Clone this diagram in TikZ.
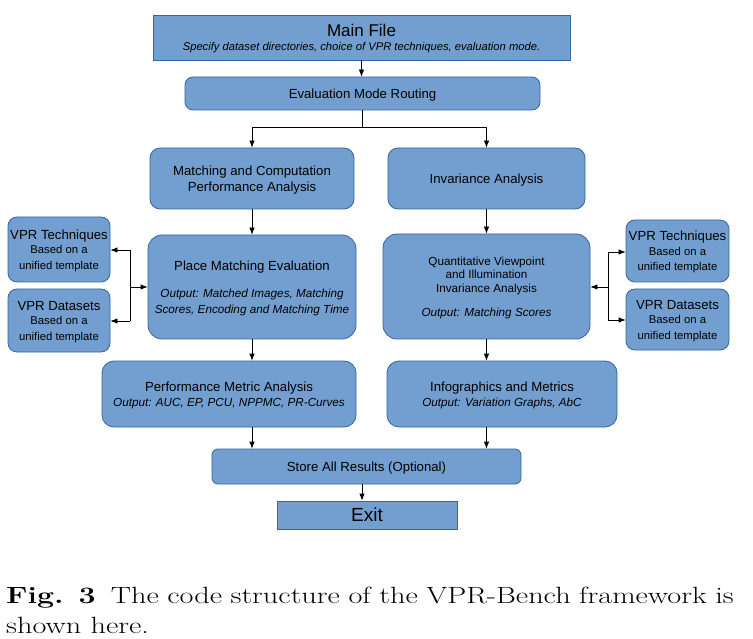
\documentclass[tikz,border=0pt]{standalone}
\usepackage{fontspec}
\usepackage{graphicx}
\newfontfamily\arial{Liberation Sans}
\usetikzlibrary{arrows.meta}
\definecolor{boxfill}{HTML}{729FCF}
\definecolor{boxline}{HTML}{3465A4}
\newcommand{\sm}{\fontsize{11.3}{13.2}\selectfont}
\newcommand{\outp}{\itshape\fontsize{11.7}{14}\selectfont}
\tikzset{
  sq/.style={draw=boxline, fill=boxfill, line width=0.8pt, inner sep=1pt, align=center,
             font=\arial\fontsize{13.2}{15.5}\selectfont, text depth=-1.8pt},
  rbox/.style={sq, rounded corners=#1},
  rbox/.default=10pt,
  arr/.style={-{Latex[length=7pt,width=5.5pt]}, line width=0.8pt, black},
  ln/.style={line width=0.8pt, black},
}
\begin{document}
\begin{tikzpicture}[x=1pt,y=-1pt]
\useasboundingbox (0,0) rectangle (753,639);
\fill[white] (0,0) rectangle (753,639);

\node[sq, minimum width=417pt, minimum height=45pt, font=\arial\fontsize{17}{19}\selectfont, text depth=-6pt] (main) at (361.5,37.5)
  {Main File\\[-4.5pt]\itshape\fontsize{11.2}{13}\selectfont Specify dataset directories, choice of VPR techniques, evaluation mode.};
\node[rbox=8pt, minimum width=355pt, minimum height=33pt] (route) at (362.5,93.5)
  {Evaluation Mode Routing};

\node[rbox, minimum width=204pt, minimum height=61pt] (match) at (252,178.5)
  {Matching and Computation\\ Performance Analysis};
\node[rbox, minimum width=197pt, minimum height=61pt] (inv) at (486.5,178.5)
  {Invariance Analysis};

\node[rbox=14pt, minimum width=208pt, minimum height=104pt, text depth=-1pt] (pme) at (252,287)
  {Place Matching Evaluation\\[12pt]
   \outp Output: Matched Images, Matching\\ \outp Scores, Encoding and Matching Time};
\node[rbox=14pt, minimum width=207pt, minimum height=105pt, font=\arial\fontsize{11.7}{13.8}\selectfont, text depth=0pt] (qva) at (486.5,286.5)
  {Quantitative Viewpoint\\ and Illumination\\ Invariance Analysis\\[10pt]
   \outp Output: Matching Scores};

\node[rbox=9pt, minimum width=102pt, minimum height=65pt] (techL) at (59,249.5)
  {VPR Techniques\\[-1pt] \sm Based on a\\ \sm unified template};
\node[rbox=9pt, minimum width=102pt, minimum height=63pt] (dataL) at (59,320.5)
  {VPR Datasets\\[-1pt] \sm Based on a\\ \sm unified template};
\node[rbox=9pt, minimum width=103pt, minimum height=62pt] (techR) at (677.5,251)
  {VPR Techniques\\[-1pt] \sm Based on a\\ \sm unified template};
\node[rbox=9pt, minimum width=103pt, minimum height=61pt] (dataR) at (677.5,319.5)
  {VPR Datasets\\[-1pt] \sm Based on a\\ \sm unified template};

\node[rbox=12pt, minimum width=254pt, minimum height=66pt] (perf) at (229,394)
  {Performance Metric Analysis\\
   \outp Output: AUC, EP, PCU, NPPMC, PR-Curves};
\node[rbox=12pt, minimum width=230pt, minimum height=66pt] (info) at (502,394)
  {Infographics and Metrics\\
   \outp Output: Variation Graphs, AbC};

\node[rbox=6pt, minimum width=309pt, minimum height=35pt] (store) at (366.5,466.5)
  {Store All Results (Optional)};
\node[sq, minimum width=180pt, minimum height=28pt, font=\arial\fontsize{19}{21}\selectfont, text depth=0pt] (exit) at (367,515)
  {Exit};

% connectors
\draw[arr] (main.south) -- (main.south |- route.north);
\draw[ln] (route.south) -- ++(0,17.5) coordinate (split);
\draw[arr] (split) -| (match.north);
\draw[arr] (split) -| (inv.north);
\draw[arr] (match.south) -- (match.south |- pme.north);
\draw[arr] (inv.south) -- (inv.south |- qva.north);
\draw[arr] (pme.south) -- (pme.south |- perf.north);
\draw[arr] (inv.south |- qva.south) -- (inv.south |- info.north);
\draw[arr] (pme.south |- perf.south) -- (pme.south |- store.north);
\draw[arr] (inv.south |- info.south) -- (inv.south |- store.north);
\coordinate (sx) at (362,484);
\draw[arr] (sx) -- (sx |- exit.north);

\coordinate (jl) at (130,287);
\coordinate (jlt) at (130,250);
\coordinate (jlb) at (130,321);
\draw[arr] (jl) -- (pme.west |- jl);
\draw[ln] (jlt) -- (jlb);
\draw[arr] (jlt) -- (techL.east |- jlt);
\draw[arr] (jlb) -- (dataL.east |- jlb);
\coordinate (jr) at (608,287);
\coordinate (jrt) at (608,252);
\coordinate (jrb) at (608,320);
\draw[arr] (jr) -- (qva.east |- jr);
\draw[ln] (jrt) -- (jrb);
\draw[arr] (jrt) -- (techR.west |- jrt);
\draw[arr] (jrb) -- (dataR.west |- jrb);

% caption
\node[anchor=north west, inner sep=0pt] (cap) at (6,587)
  {\scalebox{1.29}[1]{\parbox[t]{564pt}{\fontsize{23.5}{30}\selectfont\parindent=0pt
   \textbf{Fig. 3}\enskip The code structure of the VPR-Bench framework is\linebreak shown here.}}};
\end{tikzpicture}
\end{document}
